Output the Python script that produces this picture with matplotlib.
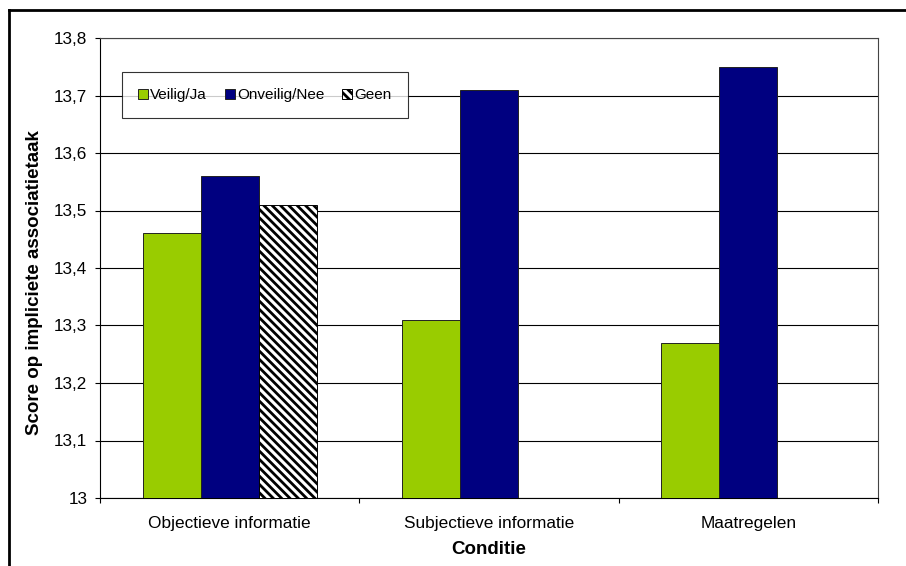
import matplotlib
matplotlib.use("Agg")
import matplotlib.pyplot as plt
import numpy as np
from matplotlib.lines import Line2D
from matplotlib.ticker import FixedLocator, FuncFormatter

categories = ["Objectieve informatie", "Subjectieve informatie", "Maatregelen"]
series_names = ["Veilig/Ja", "Onveilig/Nee", "Geen"]
veilig = [13.46, 13.31, 13.27]
onveilig = [13.56, 13.71, 13.75]
geen = [13.51, None, None]
y_ticks = [13.0, 13.1, 13.2, 13.3, 13.4, 13.5, 13.6, 13.7, 13.8]

plt.rcParams['font.family'] = ['Liberation Sans', 'DejaVu Sans']
plt.rcParams['hatch.linewidth'] = 2.0
plt.rcParams['hatch.color'] = 'black'

W, H = 906, 566
fig = plt.figure(figsize=(W / 100, H / 100), dpi=100)
fig.patch.set_facecolor('white')

# outer frame (top and left visible)
fig.add_artist(Line2D([9 / W, 1.0], [1 - 10 / H, 1 - 10 / H], color='black', lw=2, transform=fig.transFigure))
fig.add_artist(Line2D([9 / W, 9 / W], [0, 1 - 10 / H], color='black', lw=2, transform=fig.transFigure))

ax = fig.add_axes([100 / W, 1 - 498 / H, 778 / W, 460 / H])

x = np.arange(len(categories))
bw = 0.224
base = 13.0
colors = ['#99CC00', '#000080', 'white']
all_series = [veilig, onveilig, geen]
handles = []
for i, (vals, name, col) in enumerate(zip(all_series, series_names, colors)):
    xs = [xi + (i - 1) * bw for xi, v in zip(x, vals) if v is not None]
    hs = [v - base for v in vals if v is not None]
    kw = dict(color=col, edgecolor='#222222', linewidth=0.7, bottom=base, zorder=3)
    if name == "Geen":
        kw['hatch'] = '\\\\\\\\'
        kw['edgecolor'] = 'black'
    b = ax.bar(xs, hs, bw, label=name, **kw)
    handles.append(b)

ax.set_ylim(13.0, 13.8)
ax.set_xlim(-0.5, 2.5)
ax.set_yticks(y_ticks)
ax.yaxis.set_major_formatter(FuncFormatter(lambda v, p: ('%g' % round(v, 1)).replace('.', ',')))
ax.grid(axis='y', color='black', lw=0.8, zorder=0)
ax.set_axisbelow(True)

ax.set_xticks(x)
ax.set_xticklabels(categories)
ax.xaxis.set_minor_locator(FixedLocator([-0.5, 0.5, 1.5, 2.5]))
ax.tick_params(axis='x', which='major', length=0, pad=13, labelsize=12.4)
ax.tick_params(axis='x', which='minor', length=3.6, direction='out', width=0.8)
ax.tick_params(axis='y', length=3.6, width=0.8, direction='out', labelsize=12.3, pad=5.5)

for s in ax.spines.values():
    s.set_color('#444444')
    s.set_linewidth(0.8)
ax.spines['bottom'].set_color('black')
ax.spines['left'].set_color('black')

ax.set_xlabel("Conditie", fontsize=13.5, fontweight='bold', labelpad=7)
ax.set_ylabel("Score op impliciete associatietaak", fontsize=13.5, fontweight='bold')
ax.yaxis.set_label_coords(-(100 - 43) / 778, (498 - 283) / 460)

leg = ax.legend(handles=handles, labels=series_names, ncol=3,
                loc='upper left',
                bbox_to_anchor=((122 - 100) / 778, 1 - (72 - 38) / 460 - 0.001, (408 - 122) / 778, 0.001),
                mode='expand', frameon=True, fancybox=False, shadow=False,
                fontsize=11, handlelength=0.65, handleheight=0.65, handletextpad=0.15,
                borderpad=1.05, borderaxespad=0, columnspacing=1.5)
leg.get_frame().set_edgecolor('black')
leg.get_frame().set_linewidth(0.8)
leg.set_zorder(5)

fig.savefig("out.png", dpi=100, facecolor='white')
